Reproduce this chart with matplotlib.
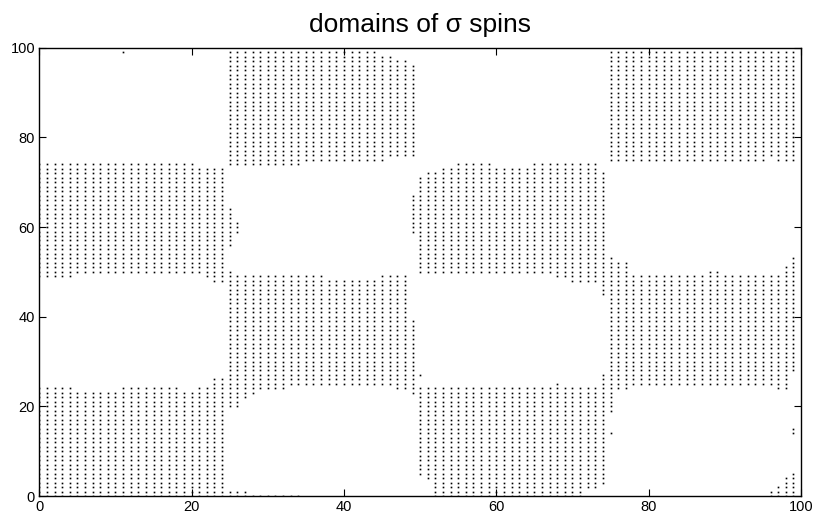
import matplotlib
matplotlib.use("Agg")
import matplotlib.pyplot as plt
import numpy as np

plt.rcParams['font.family'] = ['Liberation Sans', 'DejaVu Sans']

L = 100  # lattice size (sites 0..99 in each direction)

# Each column x holds up to two contiguous runs of up spins: run A and run B (inclusive bounds).
a_lo = [0, 0, 0, 0, 0, 0, 0, 0, 0, 0, 0, 0, 0, 0, 0, 0, 0, 0, 0, 0, 0, 0, 0, 0, 0,
        20, 20, 22, 23, 24, 24, 24, 24, 25, 25, 25, 25, 25, 25, 25, 25, 25, 25, 25, 25, 25, 25, 24, 24, 23,
        5, 4, 0, 0, 0, 0, 0, 0, 0, 0, 0, 0, 0, 0, 0, 0, 0, 0, 0, 0, 0, 0, 2, 2, 3,
        19, 24, 24, 25, 25, 25, 25, 25, 25, 25, 25, 25, 25, 25, 25, 25, 25, 25, 25, 25, 25, 25, 24, 24, 28]
a_hi = [24, 24, 24, 24, 24, 23, 23, 23, 23, 23, 23, 24, 24, 24, 24, 24, 24, 24, 24, 23, 23, 24, 24, 26, 26,
        50, 49, 49, 49, 49, 49, 49, 49, 49, 49, 49, 49, 49, 48, 48, 48, 48, 48, 48, 48, 49, 49, 49, 49, 39,
        24, 24, 24, 24, 24, 24, 24, 24, 24, 24, 24, 24, 24, 24, 24, 24, 24, 24, 25, 24, 24, 24, 24, 24, 27,
        53, 52, 52, 49, 49, 49, 49, 49, 49, 49, 49, 49, 49, 50, 50, 49, 49, 49, 49, 49, 49, 49, 49, 51, 53]
b_lo = [49, 49, 49, 49, 49, 50, 50, 50, 50, 50, 50, 50, 50, 50, 50, 50, 50, 50, 50, 50, 50, 50, 49, 48, 48,
        74, 74, 74, 74, 74, 74, 74, 74, 74, 74, 75, 75, 75, 75, 75, 75, 75, 75, 75, 75, 75, 76, 76, 76, 76,
        50, 50, 50, 50, 50, 50, 50, 50, 50, 50, 50, 50, 50, 50, 50, 50, 50, 50, 49, 49, 48, 48, 48, 48, 45,
        75, 75, 75, 75, 75, 75, 75, 75, 75, 75, 75, 75, 75, 75, 75, 75, 75, 75, 75, 75, 75, 76, 75, 75, 75]
b_hi = [74, 74, 74, 74, 74, 74, 74, 74, 74, 74, 74, 74, 74, 74, 74, 74, 74, 74, 74, 74, 74, 73, 73, 73, 73,
        99, 99, 99, 99, 99, 99, 99, 99, 99, 99, 99, 99, 99, 99, 99, 99, 99, 99, 99, 99, 98, 98, 97, 97, 96,
        71, 72, 72, 73, 73, 74, 74, 74, 74, 74, 73, 73, 73, 73, 73, 74, 74, 74, 74, 74, 74, 74, 74, 74, 72,
        99, 99, 99, 99, 99, 99, 99, 99, 99, 99, 99, 99, 99, 99, 99, 99, 99, 99, 99, 99, 99, 99, 99, 99, 99]

# Small clusters and domains wrapping through the periodic boundary y = 0.
extra_x = [11, 25, 26, 25, 26, 27, 28, 29, 30, 31, 32, 33, 34, 49, 50, 75, 96, 97, 98, 99, 99]
extra_lo = [99, 56, 59, 0, 0, 0, 0, 0, 0, 0, 0, 0, 0, 59, 27, 14, 0, 0, 0, 0, 14]
extra_hi = [99, 64, 61, 1, 1, 1, 0, 0, 0, 0, 0, 0, 0, 67, 27, 14, 1, 2, 4, 5, 15]

sigma = -np.ones((L, L), dtype=int)  # sigma[x, y]
for x in range(L):
    sigma[x, a_lo[x]:a_hi[x] + 1] = 1
    sigma[x, b_lo[x]:b_hi[x] + 1] = 1
for x, lo, hi in zip(extra_x, extra_lo, extra_hi):
    sigma[x, lo:hi + 1] = 1

px, py = np.nonzero(sigma == 1)

fig = plt.figure(figsize=(8.15, 5.17), dpi=100)
ax = fig.add_axes([0.0482, 0.0406, 0.9346, 0.8671])
ax.plot(px, py, ls='none', marker='s', ms=1.2, mfc='black', mec='none', zorder=1)

ax.set_xlim(0, 100)
ax.set_ylim(0, 100)
ax.set_xticks(np.arange(0, 101, 20))
ax.set_yticks(np.arange(0, 101, 20))
ax.tick_params(direction='in', length=5, width=0.8, top=True, right=True,
               labelsize=10.5, pad=3, colors='black')
for s in ax.spines.values():
    s.set_linewidth(1.0)
    s.set_zorder(3)
ax.set_title('domains of σ spins', fontsize=19, pad=11)

fig.savefig('out.png', dpi=100)
